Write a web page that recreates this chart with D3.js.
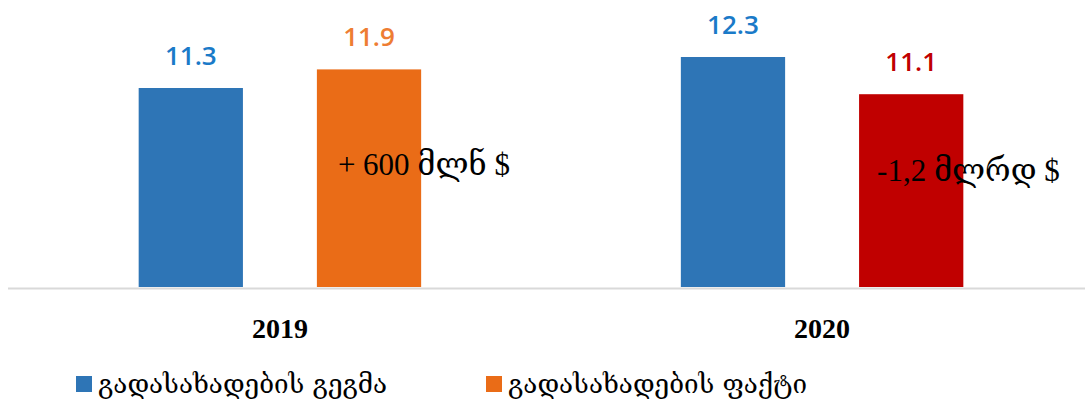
<!DOCTYPE html>
<html>
<head>
<meta charset="utf-8">
<script src="https://cdn.jsdelivr.net/npm/d3@7"></script>
<style>
    body { margin: 0; background: #fff; }
    svg { display: block; }
</style>
</head>
<body>
<svg id="chart" width="1085" height="401"></svg>
<script>
// Chart data
const years = ["2019", "2020"];
const seriesNames = ["გადასახადების გეგმა", "გადასახადების ფაქტი"];
const planValues = [11.3, 12.3];
const factValues = [11.9, 11.1];
const diffLabels = ["+ 600 მლნ $", "-1,2 მლრდ $"];

const planColor = "#2E75B6";
const factColors = ["#EA6C17", "#C00000"];
const labelColors = { plan: "#1A7AC8", fact: ["#EE7D33", "#C00000"] };

let svg = d3.select("#chart");

// Scales
let x0 = d3.scaleBand()
    .domain(years)
    .range([8, 1094])
    .paddingInner(0.479)
    .paddingOuter(0.241);

let x1 = d3.scaleBand()
    .domain(["plan", "fact"])
    .range([0, x0.bandwidth()])
    .paddingInner(0.415);

let y = d3.scaleLinear()
    .domain([4.85, 12.3])
    .range([288, 57]);

// Baseline
svg.append("line")
    .attr("x1", 8).attr("x2", 1085)
    .attr("y1", 288.5).attr("y2", 288.5)
    .attr("stroke", "#d9d9d9")
    .attr("stroke-width", 2);

// Bars rows
let rows = years.map(function (yr, i) {
    return [
        { year: yr, key: "plan", value: planValues[i], color: planColor, label: labelColors.plan },
        { year: yr, key: "fact", value: factValues[i], color: factColors[i], label: labelColors.fact[i] }
    ];
});
let flat = rows.flat();

svg.append("g")
    .selectAll("rect")
    .data(flat)
    .enter()
    .append("rect")
    .attr("x", d => x0(d.year) + x1(d.key))
    .attr("y", d => y(d.value))
    .attr("width", x1.bandwidth())
    .attr("height", d => y.range()[0] - 1 - y(d.value))
    .attr("fill", d => d.color);

// Value labels
svg.append("g")
    .selectAll("text")
    .data(flat)
    .enter()
    .append("text")
    .attr("x", d => x0(d.year) + x1(d.key) + x1.bandwidth() / 2)
    .attr("y", d => y(d.value) - 23)
    .attr("text-anchor", "middle")
    .style("font-family", "'Open Sans', Lato, sans-serif")
    .style("font-weight", "600")
    .style("font-size", "26px")
    .attr("fill", d => d.label)
    .text(d => d.value.toFixed(1));

// Difference annotations
svg.append("g")
    .selectAll("text")
    .data(years)
    .enter()
    .append("text")
    .attr("x", (d, i) => x0(d) + x1("fact") + (i === 0 ? 21 : 18))
    .attr("y", (d, i) => i === 0 ? 175 : 181)
    .style("font-family", "'Liberation Serif', 'DejaVu Serif', serif")
    .style("font-size", "31px")
    .attr("fill", "#000")
    .text((d, i) => diffLabels[i]);

// Category axis labels
svg.append("g")
    .selectAll("text")
    .data(years)
    .enter()
    .append("text")
    .attr("x", d => x0(d) + x0.bandwidth() / 2)
    .attr("y", 338)
    .attr("text-anchor", "middle")
    .style("font-family", "'Liberation Serif', serif")
    .style("font-weight", "bold")
    .style("font-size", "28px")
    .attr("fill", "#000")
    .text(d => d);

// Legend
let legendX = [76, 486];
let legend = svg.append("g")
    .selectAll("g")
    .data(seriesNames)
    .enter()
    .append("g")
    .attr("transform", (d, i) => "translate(" + legendX[i] + ",376)");

legend.append("rect")
    .attr("width", 16).attr("height", 16)
    .attr("fill", (d, i) => i === 0 ? planColor : factColors[0]);

legend.append("text")
    .attr("x", 22)
    .attr("y", 17)
    .style("font-family", "'DejaVu Serif', 'DejaVu Sans', serif")
    .style("font-size", "26px")
    .attr("fill", "#000")
    .text(d => d);
</script>
</body>
</html>
